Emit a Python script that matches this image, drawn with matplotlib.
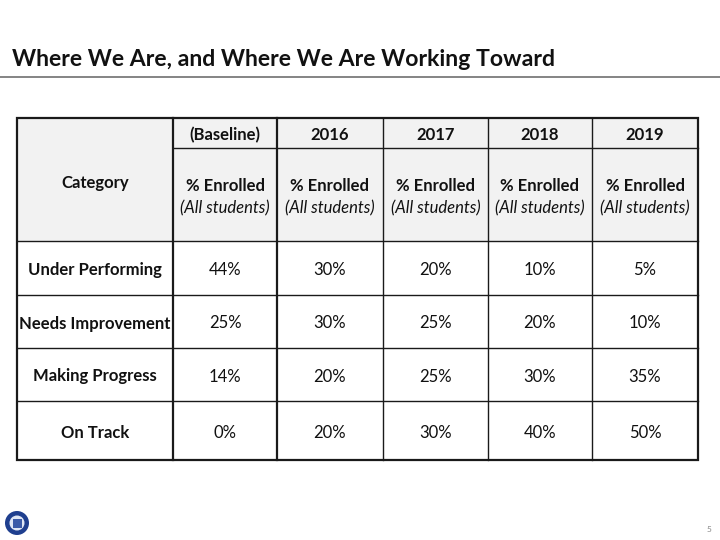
import matplotlib
matplotlib.use("Agg")
import matplotlib.pyplot as plt
from matplotlib.patches import Rectangle, Circle

title = "Where We Are, and Where We Are Working Toward"
categories = ["Under Performing", "Needs Improvement", "Making Progress", "On Track"]
years = ["(Baseline)", "2016", "2017", "2018", "2019"]
baseline = ["44%", "25%", "14%", "0%"]
y2016 = ["30%", "30%", "20%", "20%"]
y2017 = ["20%", "25%", "25%", "30%"]
y2018 = ["10%", "20%", "30%", "40%"]
y2019 = ["5%", "10%", "35%", "50%"]
columns = [baseline, y2016, y2017, y2018, y2019]

FONT = ["Lato", "DejaVu Sans"]
plt.rcParams['font.family'] = FONT

fig = plt.figure(figsize=(7.2, 5.4), dpi=100)
ax = fig.add_axes([0, 0, 1, 1])
ax.set_xlim(0, 720)
ax.set_ylim(540, 0)
ax.axis('off')

# title and rule
ax.text(12, 60, title, fontsize=16.6, fontweight='bold', color='#111111',
        ha='left', va='center')
ax.plot([0, 720], [77, 77], color='#707070', lw=1.2)

# table geometry
xs = [17, 173, 277, 383, 488, 592, 698]
ys = [118, 148, 241, 295, 348, 401, 460]
head_fill = '#f2f2f2'
ax.add_patch(Rectangle((xs[0], ys[0]), xs[-1] - xs[0], ys[2] - ys[0],
                       facecolor=head_fill, edgecolor='none'))

lc = '#1a1a1a'
# horizontal lines
ax.plot([xs[1], xs[-1]], [ys[1], ys[1]], color=lc, lw=1.0)
for y in ys[2:-1]:
    ax.plot([xs[0], xs[-1]], [y, y], color=lc, lw=1.0)
# vertical lines
for i, x in enumerate(xs[1:-1]):
    ax.plot([x, x], [ys[0], ys[-1]], color=lc, lw=1.6 if i < 2 else 1.0)
# outer border
ax.add_patch(Rectangle((xs[0], ys[0]), xs[-1] - xs[0], ys[-1] - ys[0],
                       facecolor='none', edgecolor=lc, lw=1.6))

fs = 12
# header texts
ax.text((xs[0] + xs[1]) / 2, 183, "Category", fontsize=fs, fontweight='bold',
        ha='center', va='center', color='#111111')
for j, yr in enumerate(years):
    cx = (xs[j + 1] + xs[j + 2]) / 2
    ax.text(cx, 135, yr, fontsize=fs, fontweight='bold', ha='center',
            va='center', color='#111111')
    ax.text(cx, 186, "% Enrolled", fontsize=fs, fontweight='bold', ha='center',
            va='center', color='#111111')
    ax.text(cx, 208, "(All students)", fontsize=fs, style='italic',
            ha='center', va='center', color='#111111')

# body
for i, cat in enumerate(categories):
    cy = (ys[i + 2] + ys[i + 3]) / 2 + 2
    ax.text((xs[0] + xs[1]) / 2, cy, cat, fontsize=fs, fontweight='bold',
            ha='center', va='center', color='#111111')
    for j, col in enumerate(columns):
        cx = (xs[j + 1] + xs[j + 2]) / 2
        ax.text(cx, cy, col[i], fontsize=fs, ha='center', va='center',
                color='#111111')

# logo
ax.add_patch(Circle((17, 523), 12, facecolor='#1f3f8f', edgecolor='none'))
ax.add_patch(Circle((17, 523), 7.5, facecolor='#dfe6f5', edgecolor='none'))
ax.add_patch(Rectangle((12.5, 518.5), 9, 9, facecolor='#3a5aa8', edgecolor='none'))

ax.text(709, 530, "5", fontsize=6, color='#888888', ha='center', va='center')

fig.savefig("out.png", dpi=100)
